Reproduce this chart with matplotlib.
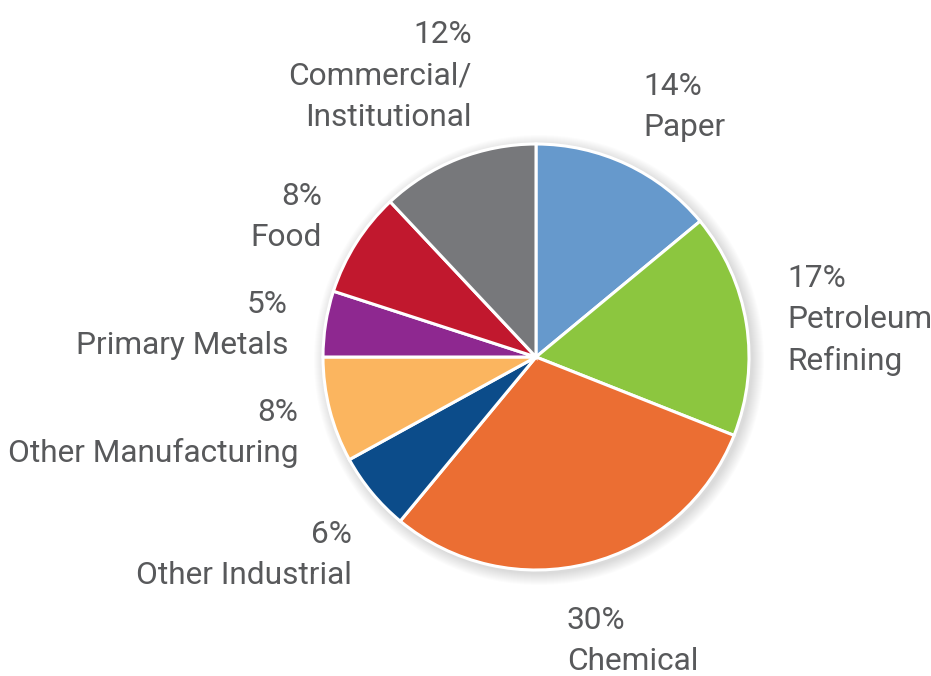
import matplotlib
matplotlib.use("Agg")
import matplotlib.pyplot as plt
from matplotlib.patches import Circle
from matplotlib import font_manager

# ---- data ----
categories = ["Paper", "Petroleum\nRefining", "Chemical", "Other Industrial",
              "Other Manufacturing", "Primary Metals", "Food", "Commercial/\nInstitutional"]
shares = [14, 17, 30, 6, 8, 5, 8, 12]
colors = ["#6699CC", "#8CC63F", "#EB6E33", "#0C4C8A", "#FBB55F", "#8E2890", "#C1182E", "#77787B"]

# ---- layout (pixel coords, y measured from top) ----
W, H = 931, 676
cx, cy, R = 536, 357, 213
# (anchor x, first baseline y, horizontal alignment)
label_pos = [
    (643, 95, "left"),
    (787, 287, "left"),
    (567, 629, "left"),
    (352, 543, "right"),
    (298, 421, "right"),
    (288, 313, "right"),
    (322, 205, "right"),
    (472, 43, "right"),
]
line_gap = 41.5
text_color = "#58595B"

names = {f.name for f in font_manager.fontManager.ttflist}
if "Liberation Sans Narrow" in names:
    font = ["Liberation Sans Narrow", "DejaVu Sans"]
    fsize = 26
else:
    font = ["Roboto", "DejaVu Sans"]
    fsize = 22.8

fig = plt.figure(figsize=(W / 100, H / 100), dpi=100)
ax = fig.add_axes([0, 0, 1, 1])
ax.set_xlim(0, W)
ax.set_ylim(0, H)
ax.set_aspect("equal")
ax.axis("off")

# soft shadow
for k in range(1, 13):
    ax.add_patch(Circle((cx + 3, H - cy - 3), R + k, color="black", alpha=0.011,
                        lw=0, zorder=0))

ax.pie(shares, colors=colors, startangle=90, counterclock=False,
       center=(cx, H - cy), radius=R,
       wedgeprops=dict(edgecolor="white", linewidth=2.2, zorder=2))
ax.set_xlim(0, W)
ax.set_ylim(0, H)

for name, val, (x, y, ha) in zip(categories, shares, label_pos):
    lines = [f"{val}%"] + name.split("\n")
    for i, ln in enumerate(lines):
        ax.text(x, H - (y + i * line_gap), ln, ha=ha, va="baseline",
                fontsize=fsize, color=text_color, family=font)

fig.savefig("out.png", dpi=100)
